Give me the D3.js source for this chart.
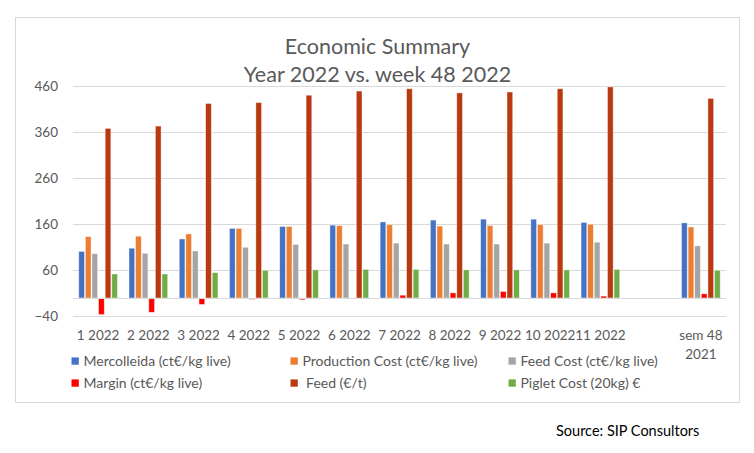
<!DOCTYPE html>
<html>
<head>
<meta charset="utf-8">
<script src="https://cdn.jsdelivr.net/npm/d3@7"></script>
<style>
  html, body { margin: 0; padding: 0; background: #fff; }
  svg { display: block; font-family: Lato, "Open Sans", sans-serif; }
</style>
</head>
<body>
<svg id="chart" width="754" height="453"></svg>
<script>
// ---- data ----
const categories = ["1 2022","2 2022","3 2022","4 2022","5 2022","6 2022","7 2022","8 2022","9 2022","10 2022","11 2022","","sem 48 2021"];
const seriesNames = ["Mercolleida (ct€/kg live)","Production Cost (ct€/kg live)","Feed Cost (ct€/kg live)","Margin (ct€/kg live)"," Feed (€/t)","Piglet Cost (20kg) €"];
const mercolleida = [101,108,128,151,155,158,165,169,171,171,164,null,163];
const productionCost = [133,134,139,151,155,157,159,156,157,159,160,null,154];
const feedCost = [96,97,102,110,116,117,119,117,117,119,121,null,113];
const margin = [-36,-31,-14,-3,-4,-1.5,6,11,14,11,4,null,9];
const feed = [368,373,422,424,440,449,454,445,447,454,458,null,433];
const pigletCost = [52,52,55,60,61,62,62,61,61,61,62,null,60];
const yTicks = [-40,60,160,260,360,460];
const titleLines = ["Economic Summary","Year 2022 vs. week 48 2022"];
const sourceText = "Source: SIP Consultors";

const seriesValues = [mercolleida, productionCost, feedCost, margin, feed, pigletCost];
const colors = ["#4472C4","#ED7D31","#A5A5A5","#FF0000","#B93A10","#70AD47"];

// ---- layout ----
const svg = d3.select("#chart");
const plot = {left: 73, right: 726, top: 86, bottom: 316.4};

svg.append("rect").attr("x", 15.5).attr("y", 17.5).attr("width", 724).attr("height", 385)
  .attr("fill", "#fff").attr("stroke", "#D9D9D9").attr("stroke-width", 1);

const y = d3.scaleLinear().domain([-40, 460]).range([plot.bottom, plot.top]);
const x0 = d3.scaleBand().domain(d3.range(categories.length)).range([plot.left, plot.right]).padding(0);
const x1 = d3.scaleBand().domain(d3.range(seriesNames.length))
  .range([x0.bandwidth() * 0.115, x0.bandwidth() * 0.885]).paddingInner(0.14).paddingOuter(0);

// gridlines
svg.append("g").selectAll("line").data(yTicks).join("line")
  .attr("x1", plot.left).attr("x2", plot.right)
  .attr("y1", d => Math.round(y(d)) + 0.5).attr("y2", d => Math.round(y(d)) + 0.5)
  .attr("stroke", "#D9D9D9").attr("stroke-width", 1);

// y axis labels
const yAxis = d3.axisLeft(y).tickValues(yTicks).tickSize(0).tickPadding(0);
const gy = svg.append("g").attr("transform", "translate(58,0)").call(yAxis);
gy.select(".domain").remove();
gy.selectAll("text").attr("fill", "#595959").style("font-size", "13.5px").style("font-family", "Lato");

// bars
const groups = svg.append("g").selectAll("g").data(categories.map((c, i) => i)).join("g")
  .attr("transform", i => `translate(${x0(i)},0)`);
groups.selectAll("rect")
  .data(i => seriesValues.map((s, k) => ({k, v: s[i]})).filter(d => d.v !== null))
  .join("rect")
  .attr("x", d => x1(d.k))
  .attr("width", x1.bandwidth())
  .attr("y", d => Math.min(y(d.v), y(0)))
  .attr("height", d => Math.abs(y(d.v) - y(0)))
  .attr("fill", d => colors[d.k])
  .attr("stroke", "#fff").attr("stroke-opacity", 0.55).attr("stroke-width", 0.7);

// zero axis line
svg.append("line").attr("x1", plot.left).attr("x2", plot.right)
  .attr("y1", Math.round(y(0)) + 0.5).attr("y2", Math.round(y(0)) + 0.5)
  .attr("stroke", "#D9D9D9").attr("stroke-width", 1);

// x labels
const xl = svg.append("g").selectAll("text").data(categories.map((c, i) => i)).join("text")
  .attr("x", i => x0(i) + x0.bandwidth() / 2)
  .attr("y", 340)
  .attr("text-anchor", "middle")
  .attr("fill", "#595959").style("font-size", "13.5px");
xl.each(function(i) {
  const label = categories[i];
  const t = d3.select(this);
  if (label.startsWith("sem")) {
    const parts = ["sem 48", "2021"];
    parts.forEach((p, j) => t.append("tspan").attr("x", x0(i) + x0.bandwidth() / 2).attr("dy", j === 0 ? 0 : 19).text(p));
  } else {
    t.text(label);
  }
});

// legend
const legendCols = [71, 290, 508];
const legendRows = [361, 383];
const lg = svg.append("g").selectAll("g").data(seriesNames.map((n, i) => i)).join("g")
  .attr("transform", i => `translate(${legendCols[i % 3]},${legendRows[Math.floor(i / 3)]})`);
lg.append("rect").attr("x", 0.5).attr("y", -3.6).attr("width", 7.3).attr("height", 7.3).attr("fill", i => colors[i]);
lg.append("text").attr("x", 12.5).attr("y", 4.8).attr("xml:space", "preserve")
  .style("white-space", "pre")
  .attr("fill", "#595959").style("font-size", "14px").text(i => seriesNames[i]);

// title
svg.append("g").selectAll("text").data(titleLines).join("text")
  .attr("x", 377.5).attr("y", (d, i) => 54 + i * 28)
  .attr("text-anchor", "middle").attr("fill", "#595959").style("font-size", "21.5px").text(d => d);

// source
svg.append("text").attr("x", 556).attr("y", 436).attr("fill", "#000").style("font-size", "14.5px").text(sourceText);
</script>
</body>
</html>
